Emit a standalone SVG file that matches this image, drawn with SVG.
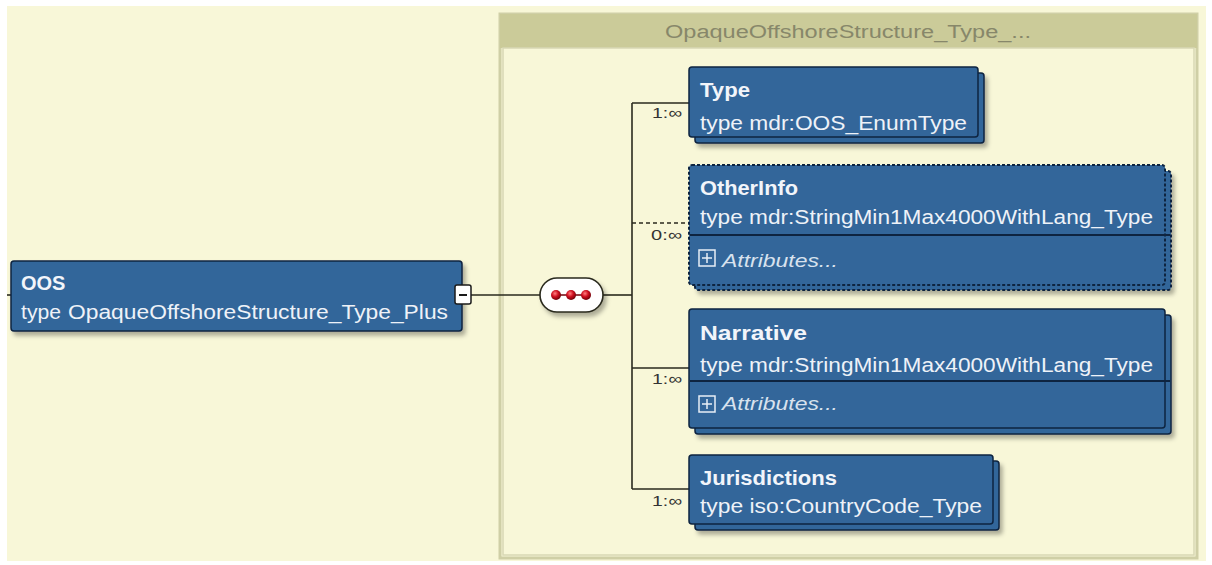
<svg xmlns="http://www.w3.org/2000/svg" width="1212" height="565" viewBox="0 0 1212 565">
<style>
text{font-family:"Liberation Sans",Arial,sans-serif}
.bg{fill:#F8F7D8}
.node{fill:#33669A;stroke:#0E2440;stroke-width:1.5}
.dot{stroke-dasharray:3 2;stroke-width:2}
.title{font-size:20px;font-weight:bold;fill:#F2F5FA}
.typ{font-size:20px;fill:#EEF2F8}
.attr{font-size:19px;font-style:italic;fill:#D8E2EE}
.mult{font-size:15px;fill:#333}
.ln{stroke:#2A2A1E;stroke-width:1.6;fill:none}
.div{stroke:#0E2440;stroke-width:2}
</style>
<defs>
<filter id="sh" x="-10%" y="-10%" width="130%" height="140%">
<feDropShadow dx="3" dy="4" stdDeviation="2" flood-color="#000" flood-opacity="0.3"/>
</filter>
<radialGradient id="rd" cx="40%" cy="35%" r="65%">
<stop offset="0" stop-color="#FF8080"/>
<stop offset="0.5" stop-color="#D01020"/>
<stop offset="1" stop-color="#700008"/>
</radialGradient>
<g id="plus">
<rect x="0" y="0" width="16" height="16" fill="none" stroke="#E8EEF6" stroke-width="1.5"/>
<path d="M3 8H13M8 3V13" stroke="#E8EEF6" stroke-width="1.5"/>
</g>
</defs>

<rect x="0" y="0" width="1212" height="565" fill="#FFFFFF"/>
<rect class="bg" x="7" y="6" width="1199" height="555"/>

<g id="group-box">
<rect x="500" y="14" width="697" height="544" fill="#F8F7D8" stroke="#CFCFA6" stroke-width="3"/>
<rect x="500" y="14" width="697" height="34" fill="#CBCB99"/>
<rect x="503" y="48" width="691" height="507" fill="none" stroke="#D8D8B4" stroke-width="1.5"/>
<text x="848" y="38" text-anchor="middle" font-size="18" fill="#87876A" textLength="366" lengthAdjust="spacingAndGlyphs">OpaqueOffshoreStructure_Type_...</text>
</g>

<g id="connectors">
<line class="ln" x1="7" y1="295" x2="11" y2="295"/>
<line class="ln" x1="471" y1="295" x2="540" y2="295"/>
<line class="ln" x1="603" y1="295" x2="632" y2="295"/>
<line class="ln" x1="632" y1="103" x2="632" y2="489"/>
<line class="ln" x1="632" y1="103" x2="689" y2="103"/>
<line class="ln" x1="632" y1="223" x2="689" y2="223" stroke-dasharray="4 3"/>
<line class="ln" x1="632" y1="368" x2="689" y2="368"/>
<line class="ln" x1="632" y1="489" x2="689" y2="489"/>
<text class="mult" x="652" y="118" textLength="30" lengthAdjust="spacingAndGlyphs">1:∞</text>
<text class="mult" x="651" y="240" textLength="31" lengthAdjust="spacingAndGlyphs">0:∞</text>
<text class="mult" x="652" y="384" textLength="30" lengthAdjust="spacingAndGlyphs">1:∞</text>
<text class="mult" x="652" y="506" textLength="30" lengthAdjust="spacingAndGlyphs">1:∞</text>
</g>

<g id="node-OOS">
<rect class="node" x="11" y="261" width="451" height="70" rx="3" filter="url(#sh)"/>
<text class="title" x="21" y="290">OOS</text>
<text class="typ" x="21" y="319" textLength="40" lengthAdjust="spacingAndGlyphs">type</text>
<text class="typ" x="68" y="319" textLength="380" lengthAdjust="spacingAndGlyphs">OpaqueOffshoreStructure_Type_Plus</text>
<rect x="455" y="285" width="16" height="19" rx="2" fill="#FFFFFF" stroke="#1A1A1A" stroke-width="1.5"/>
<line x1="459" y1="295" x2="467" y2="295" stroke="#1A1A1A" stroke-width="2"/>
</g>

<g id="node-sequence">
<rect x="540" y="278" width="63" height="34" rx="17" fill="#FFFFFF" stroke="#2A2A1E" stroke-width="1.6" filter="url(#sh)"/>
<line x1="556" y1="295" x2="586" y2="295" stroke="#700008" stroke-width="1.5"/>
<circle cx="556" cy="295" r="5" fill="url(#rd)"/>
<circle cx="571" cy="295" r="5" fill="url(#rd)"/>
<circle cx="586" cy="295" r="5" fill="url(#rd)"/>
</g>

<g id="node-Type">
<rect class="node" x="695" y="73" width="289" height="70" rx="3" filter="url(#sh)"/>
<rect class="node" x="689" y="67" width="289" height="70" rx="3"/>
<text class="title" x="700" y="97" textLength="50" lengthAdjust="spacingAndGlyphs">Type</text>
<text class="typ" x="700" y="130" textLength="267" lengthAdjust="spacingAndGlyphs">type  mdr:OOS_EnumType</text>
</g>

<g id="node-OtherInfo">
<rect class="node dot" x="695" y="171" width="476" height="119" rx="3" filter="url(#sh)"/>
<rect class="node dot" x="689" y="165" width="476" height="120" rx="3"/>
<line class="div" x1="690" y1="235" x2="1170" y2="235"/>
<text class="title" x="700" y="195" textLength="98" lengthAdjust="spacingAndGlyphs">OtherInfo</text>
<text class="typ" x="700" y="224" textLength="453" lengthAdjust="spacingAndGlyphs">type  mdr:StringMin1Max4000WithLang_Type</text>
<use href="#plus" x="699" y="250"/>
<text class="attr" x="722" y="267" textLength="116" lengthAdjust="spacingAndGlyphs">Attributes...</text>
</g>

<g id="node-Narrative">
<rect class="node" x="695" y="315" width="476" height="119" rx="3" filter="url(#sh)"/>
<rect class="node" x="689" y="309" width="476" height="119" rx="3"/>
<line class="div" x1="690" y1="381" x2="1170" y2="381"/>
<text class="title" x="700" y="340" textLength="107" lengthAdjust="spacingAndGlyphs">Narrative</text>
<text class="typ" x="700" y="372" textLength="453" lengthAdjust="spacingAndGlyphs">type  mdr:StringMin1Max4000WithLang_Type</text>
<use href="#plus" x="699" y="396"/>
<text class="attr" x="722" y="410" textLength="116" lengthAdjust="spacingAndGlyphs">Attributes...</text>
</g>

<g id="node-Jurisdictions">
<rect class="node" x="695" y="461" width="304" height="69" rx="3" filter="url(#sh)"/>
<rect class="node" x="689" y="455" width="304" height="69" rx="3"/>
<text class="title" x="700" y="485" textLength="137" lengthAdjust="spacingAndGlyphs">Jurisdictions</text>
<text class="typ" x="700" y="513" textLength="282" lengthAdjust="spacingAndGlyphs">type  iso:CountryCode_Type</text>
</g>
</svg>
